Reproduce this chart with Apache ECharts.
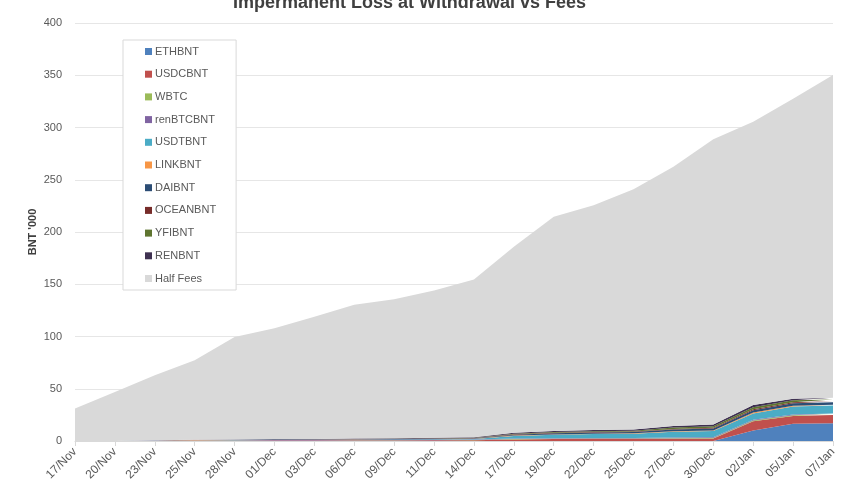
<!DOCTYPE html>
<html>
<head>
<meta charset="utf-8">
<script src="https://cdn.jsdelivr.net/npm/echarts@6/dist/echarts.min.js"></script>
<style>html,body{margin:0;padding:0;background:#fff}#c{width:864px;height:500px}</style>
</head>
<body>
<div id="c"></div>
<script>
const categories = ['17/Nov','20/Nov','23/Nov','25/Nov','28/Nov','01/Dec','03/Dec','06/Dec','09/Dec','11/Dec','14/Dec','17/Dec','19/Dec','22/Dec','25/Dec','27/Dec','30/Dec','02/Jan','05/Jan','07/Jan'];
const ETHBNT    = [0,0,0,0,0,0,0,0,0,0,0,0,0,0,0,0,0,10,16.5,17];
const USDCBNT   = [0,0,0.2,0.3,0.3,0.4,0.4,0.5,0.5,0.6,0.8,1.5,1.8,2,2,2.2,2.5,9,7.5,8];
const WBTC      = [0,0,0.1,0.1,0.1,0.1,0.1,0.1,0.1,0.1,0.1,0.3,0.3,0.3,0.3,0.4,0.4,0.6,0.6,0.6];
const renBTCBNT = [0,0,0.2,0.3,0.3,0.4,0.4,0.4,0.5,0.5,0.5,0.6,0.6,0.6,0.6,0.7,0.7,0.8,0.8,0.8];
const USDTBNT   = [0,0,0.1,0.1,0.2,0.2,0.3,0.3,0.3,0.4,0.6,2.5,3.3,3.8,4,5.5,6,6,7.5,7.5];
const LINKBNT   = [0,0,0,0.1,0.1,0.1,0.1,0.1,0.1,0.1,0.2,0.3,0.3,0.3,0.4,0.5,0.5,0.8,0.8,0.8];
const DAIBNT    = [0,0,0.1,0.1,0.2,0.2,0.2,0.3,0.3,0.3,0.4,0.8,1,1.1,1.2,1.6,1.8,2.2,2.4,2.3];
const OCEANBNT  = [0,0,0,0.1,0.1,0.1,0.1,0.1,0.2,0.2,0.2,0.4,0.5,0.5,0.5,0.7,0.8,1,1,1];
const YFIBNT    = [0,0,0,0,0,0,0.1,0.1,0.1,0.2,0.2,0.6,0.7,0.8,0.8,1.3,1.4,2,1.8,1.8];
const RENBNT    = [0,0,0.1,0.2,0.2,0.3,0.3,0.4,0.5,0.6,0.6,0.8,1,1.1,1.2,1.5,1.6,2,1.5,1.5];
const HalfFees  = [31,47,62,76,98,106,117,128,133,141,151,178,205,215,230,248,273,271,287,309];
const yTicks = [0,50,100,150,200,250,300,350,400];

const seriesDefs = [
  ['ETHBNT', ETHBNT, '#4F81BD'],
  ['USDCBNT', USDCBNT, '#C0504D'],
  ['WBTC', WBTC, '#9BBB59'],
  ['renBTCBNT', renBTCBNT, '#8064A2'],
  ['USDTBNT', USDTBNT, '#4BACC6'],
  ['LINKBNT', LINKBNT, '#F79646'],
  ['DAIBNT', DAIBNT, '#2C4D75'],
  ['OCEANBNT', OCEANBNT, '#772C2A'],
  ['YFIBNT', YFIBNT, '#5F7530'],
  ['RENBNT', RENBNT, '#3F3151'],
  ['Half Fees', HalfFees, '#D9D9D9']
];

const chart = echarts.init(document.getElementById('c'), null, {renderer:'canvas'});
chart.setOption({
  animation: false,
  backgroundColor: '#fff',
  title: {
    text: 'Impermanent Loss at Withdrawal vs Fees',
    left: 228, top: -11,
    textStyle: {fontFamily: 'Liberation Sans', fontSize: 18, fontWeight: 'bold', color: '#404040'}
  },
  legend: {
    orient: 'vertical',
    left: 123, top: 40,
    padding: [6, 20, 6, 22],
    backgroundColor: '#fff',
    borderColor: '#D9D9D9', borderWidth: 1,
    itemWidth: 7, itemHeight: 7, itemGap: 11.7,
    icon: 'rect',
    textStyle: {fontFamily: 'Liberation Sans', fontSize: 11, color: '#595959', padding: [0,0,0,-2]},
    data: seriesDefs.map(s => s[0])
  },
  grid: {left: 75, right: 31, top: 23, bottom: 59},
  xAxis: {
    type: 'category', data: categories, boundaryGap: false,
    axisLine: {lineStyle: {color: '#D9D9D9'}},
    axisTick: {show: true, alignWithLabel: true, lineStyle: {color: '#D9D9D9'}},
    axisLabel: {rotate: 45, fontFamily: 'Liberation Sans', fontSize: 12, color: '#595959', margin: 9, interval: 0}
  },
  yAxis: {
    type: 'value', min: yTicks[0], max: yTicks[yTicks.length-1], interval: 50,
    name: "BNT '000", nameLocation: 'middle', nameGap: 37, nameMoveOverlap: false,
    nameTextStyle: {fontFamily: 'Liberation Sans', fontSize: 11, fontWeight: 'bold', color: '#404040'},
    axisLine: {show: false}, axisTick: {show: false},
    axisLabel: {fontFamily: 'Liberation Sans', fontSize: 11, color: '#595959', margin: 13},
    splitLine: {lineStyle: {color: '#E6E6E6', width: 1}}
  },
  series: seriesDefs.map(s => ({
    name: s[0], type: 'line', stack: 'total', data: s[1],
    symbol: 'none', lineStyle: {width: 0}, itemStyle: {color: s[2]},
    areaStyle: {color: s[2], opacity: 1}
  }))
});
</script>
</body>
</html>
